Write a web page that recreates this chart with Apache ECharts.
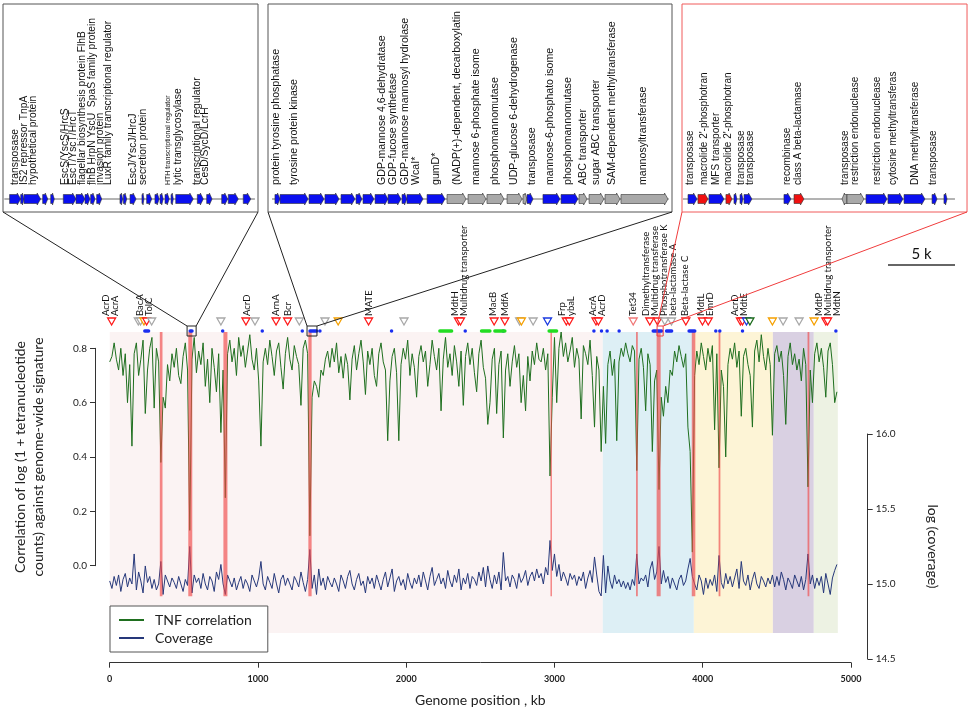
<!DOCTYPE html>
<html><head><meta charset="utf-8">
<script src="https://cdn.jsdelivr.net/npm/echarts@6/dist/echarts.min.js"></script>
<style>html,body{margin:0;padding:0;background:#fff}#c{width:970px;height:712px}</style>
</head><body><div id="c"></div>
<script>
// ---------------- DATA ----------------
const WINDOW_KB = 15; // sliding window step along genome (kb)

const tnfCorrelation = [
0.75,0.77,0.82,0.76,0.72,0.80,0.70,0.78,0.60,0.74,
0.44,0.78,0.82,0.70,0.76,0.83,0.56,0.72,0.80,0.84,
0.58,0.80,0.75,0.38,0.62,0.58,0.74,0.68,0.78,0.73,
0.80,0.70,0.67,0.77,0.82,0.72,0.13,0.76,0.84,0.71,
0.79,0.74,0.82,0.66,0.76,0.60,0.80,0.73,0.64,0.78,
0.49,0.72,0.25,0.78,0.83,0.75,0.80,0.70,0.84,0.77,
0.81,0.73,0.79,0.85,0.76,0.72,0.80,0.68,0.44,0.75,
0.80,0.74,0.83,0.77,0.70,0.79,0.82,0.73,0.65,0.78,
0.84,0.76,0.72,0.81,0.77,0.74,0.59,0.80,0.83,0.78,
0.11,0.62,0.68,0.66,0.62,0.72,0.70,0.76,0.79,0.73,
0.80,0.75,0.82,0.71,0.77,0.69,0.78,0.74,0.61,0.76,
0.81,0.72,0.78,0.83,0.75,0.63,0.79,0.74,0.80,0.70,
0.66,0.78,0.82,0.75,0.72,0.46,0.68,0.77,0.80,0.71,
0.46,0.74,0.80,0.76,0.83,0.70,0.78,0.73,0.62,0.77,
0.81,0.75,0.79,0.66,0.74,0.83,0.77,0.72,0.80,0.57,
0.76,0.84,0.73,0.78,0.70,0.81,0.75,0.66,0.79,0.59,
0.77,0.82,0.74,0.80,0.71,0.64,0.78,0.83,0.73,0.69,
0.52,0.60,0.76,0.80,0.56,0.74,0.79,0.47,0.72,0.78,
0.66,0.75,0.81,0.73,0.78,0.60,0.70,0.57,0.77,0.68,
0.79,0.74,0.82,0.76,0.75,0.80,0.72,0.78,0.33,0.62,
0.84,0.60,0.80,0.86,0.77,0.82,0.75,0.79,0.84,0.73,
0.80,0.76,0.54,0.81,0.78,0.74,0.83,0.70,0.51,0.77,
0.72,0.42,0.66,0.45,0.74,0.79,0.70,0.76,0.46,0.75,
0.80,0.77,0.82,0.78,0.75,0.81,0.79,0.35,0.76,0.80,
0.73,0.57,0.78,0.74,0.42,0.68,0.72,0.28,0.62,0.55,
0.66,0.60,0.72,0.70,0.79,0.75,0.81,0.77,0.73,0.78,
0.51,0.42,0.05,0.70,0.79,0.74,0.82,0.77,0.72,0.80,
0.75,0.81,0.50,0.78,0.36,0.72,0.66,0.40,0.74,0.80,
0.76,0.82,0.73,0.79,0.55,0.77,0.80,0.74,0.70,0.51,
0.79,0.83,0.75,0.85,0.77,0.72,0.80,0.74,0.48,0.78,
0.81,0.75,0.79,0.70,0.52,0.77,0.82,0.74,0.78,0.72,
0.76,0.68,0.80,0.74,0.29,0.72,0.60,0.78,0.82,0.75,
0.80,0.73,0.62,0.79,0.82,0.74,0.60,0.64
];

const logCoverage = [
15.02,14.97,15.05,14.99,15.06,14.95,15.03,15.07,14.98,15.04,
15.00,15.20,14.96,15.08,15.02,14.94,15.12,15.01,15.05,14.97,
15.03,14.96,15.00,15.15,14.93,15.06,15.02,14.98,15.04,15.01,
14.97,15.05,15.00,14.95,15.03,14.99,15.25,14.94,15.06,15.01,
15.04,14.97,15.07,15.00,14.96,15.05,15.02,14.95,15.08,15.03,
15.13,15.00,14.93,15.06,15.02,14.98,15.04,14.96,15.01,15.05,
14.97,15.03,15.00,14.95,15.06,15.02,14.98,15.04,15.15,15.00,
14.96,15.05,15.01,14.97,15.07,15.00,14.94,15.03,15.06,14.99,
15.04,15.00,14.96,15.05,15.02,14.98,15.08,15.01,14.95,15.03,
15.23,14.97,15.06,14.93,15.10,14.99,15.04,14.96,15.05,15.01,
14.98,15.04,15.00,14.95,15.06,15.02,14.97,15.05,15.09,15.00,
14.96,15.03,15.07,14.99,15.02,14.94,15.05,15.00,15.04,14.97,
15.06,15.01,14.96,15.03,15.08,14.98,15.04,15.10,14.95,15.02,
15.05,14.99,15.03,14.96,15.07,15.01,14.97,15.04,15.00,15.06,
14.98,15.08,15.02,14.96,15.05,15.11,14.99,15.03,15.07,15.00,
15.04,14.97,15.09,15.02,14.98,15.06,15.01,15.10,14.96,15.04,
15.00,15.07,14.97,15.05,15.03,14.99,15.08,15.02,15.11,14.98,
15.12,15.03,14.97,15.06,15.00,15.08,14.96,15.21,15.02,15.05,
14.98,15.06,15.03,14.97,15.07,15.01,15.04,15.09,14.99,15.05,
15.08,15.02,15.10,15.04,15.07,15.00,15.11,15.06,15.29,15.09,
15.20,15.05,15.13,15.02,15.08,15.04,14.99,15.07,15.03,15.06,
14.99,15.05,15.02,15.08,14.97,15.04,15.09,15.01,15.18,15.06,
14.95,14.92,15.19,14.94,15.12,15.02,14.97,15.06,15.00,15.03,
14.98,15.02,14.97,15.01,14.96,15.03,14.99,15.20,15.00,15.04,
15.02,15.06,14.98,15.10,15.15,15.03,15.08,15.25,15.00,15.09,
15.01,15.05,14.97,15.04,15.00,14.96,15.03,15.06,14.99,15.02,
15.10,15.17,15.05,15.00,14.96,15.06,15.02,14.93,15.04,14.97,
15.03,14.99,15.06,14.95,15.19,15.01,14.97,15.07,15.00,15.05,
14.98,15.04,15.10,14.97,15.15,15.02,14.99,15.06,14.96,15.03,
15.08,15.00,14.97,15.05,15.02,14.98,15.04,15.00,15.06,14.98,
15.05,14.99,15.08,15.03,14.96,15.04,15.01,14.97,15.06,15.02,
14.98,15.05,14.96,15.03,15.20,15.00,15.06,14.97,15.04,14.99,
15.05,14.94,15.07,15.00,14.93,15.04,15.09,15.13
];

// genome-composition clusters (kb start, kb end)
const compositionRegions = [[0,3326],[3326,3940],[3940,4473],[4473,4749],[4749,4911]];
// genomic islands (red bars, kb)
const islandBars = [[338,356],[530,557],[767,794],[1340,1362],[2973,2983],[3550,3562],[3689,3716],[3926,3950],[4107,4119],[4707,4719]];
// resistance genes: [kb, class]  r=red g=gray o=orange b=blue d=dark green p=light red
const resistanceGenes = [[13,'r'],[193,'g'],[208,'g'],[231,'o'],[249,'r'],[283,'g'],[750,'g'],[919,'r'],[980,'g'],[1122,'r'],[1200,'r'],[1279,'g'],[1452,'g'],[1541,'o'],[1746,'r'],[1985,'g'],[2352,'r'],[2366,'r'],[2593,'r'],[2665,'r'],[2765,'g'],[2777,'o'],[2856,'g'],[2953,'b'],[3080,'r'],[3100,'r'],[3280,'r'],[3296,'r'],[3531,'p'],[3643,'r'],[3695,'r'],[3744,'g'],[3789,'g'],[3886,'r'],[3998,'r'],[4037,'r'],[4254,'r'],[4268,'r'],[4295,'b'],[4318,'d'],[4470,'o'],[4542,'g'],[4650,'g'],[4751,'o'],[4830,'r'],[4842,'r']];
const resistanceLabels = [[5,'AcrD\nAcrA'],[231,'BacA\nTolC'],[924,'AcrD'],[1119,'ArnA'],[1200,'Bcr'],[1751,'MATE'],[2362,'MdtH\nMultidrug transporter'],[2587,'MacB'],[2665,'MdfA'],[3084,'Frp\nybaL'],[3288,'AcrA\nAcrD'],[3531,'Tet34'],[3710,'Dimethyltransferase\nMultidrug transferase\nPhosphotransferase K\nbeta-lactamase A'],[3880,'Beta-lactase C'],[4021,'MdtL\nEmrD'],[4250,'AcrD\nMdtE'],[4844,'MdtP\nMultidrug transporter\nMdtN']];
// mobile elements (blue) and other marks (green): [kb start, kb end]
const mobileMarks = [[237,262],[543,555],[762,762],[1029,1029],[1299,1299],[1351,1396],[1418,1418],[1901,1901],[2398,2398],[2654,2654],[3266,3266],[3317,3317],[3355,3355],[3436,3436],[3666,3722],[3756,3790],[3908,3946],[4088,4088],[4115,4115],[4268,4268],[4898,4898]];
const greenMarks = [[2227,2306],[2508,2564],[2598,2665],[2964,3014]];
// zoomed regions (kb)
const zoomBoxes = [[522,583],[1331,1398],[3692,3733]];

// gene panels: [start kb, end kb, strand], types: b=blue r=red g=gray
const panelSpansKb = [19.03, 30.15, 21.27];
const panelTracks = [[0.1,18.8],[0.3,29.9],[0.07,20.37]];
const panel1Genes = [[0.49,1.32,1],[1.32,1.57,1],[1.57,2.81,1],[2.96,3.34,1],[3.56,3.83,1],[4.50,5.45,1],[5.45,6.12,1],[6.12,6.49,1],[6.54,6.87,1],[6.99,7.37,1],[8.73,8.93,1],[8.98,9.23,1],[9.48,9.93,1],[10.37,10.52,1],[10.72,11.10,1],[11.34,11.66,1],[11.72,11.96,1],[12.09,12.41,1],[12.54,12.71,1],[12.89,14.20,1],[14.50,14.95,1],[15.20,15.60,1],[16.32,16.77,1],[16.81,17.56,1],[17.93,18.49,1]];
const panel1Types = 'bbbbbbbbbbbbbbbbbbbbbbbbb';
const panel1Labels = [[0.9,'transposase'],[1.57,'IS2 repressor TnpA'],[2.24,'hypothetical protein'],[4.63,'EscS/YscS/HrcS'],[5.22,'EscT/YscT/HrcT'],[5.9,'flagellar biosynthesis protein FlhB'],[6.64,'flhB HrpN YscU  SpaS family protein'],[7.24,'invasion protein'],[7.84,'LuxR family transcriptional regulator'],[9.7,'EscJ/YscJ/HrcJ'],[10.45,'secretion protein'],[13.06,'lytic transglycosylase'],[14.48,'transcriptional regulator'],[15.07,'CesD/SycD/LcrH']];
const panel1SmallLabels = [[12.31,'HTH transcriptional regulator']];
const panel2Genes = [[0.52,0.90,1],[0.90,2.99,1],[3.06,4.18,1],[4.25,5.30,1],[5.45,6.49,1],[6.57,7.01,1],[7.09,7.91,1],[7.99,8.96,1],[8.96,9.93,1],[10.00,10.37,1],[10.37,11.57,1],[11.87,13.21,1],[13.36,14.78,1],[14.93,16.27,1],[16.34,17.61,1],[17.84,18.96,1],[19.03,19.33,1],[19.33,19.78,1],[20.52,21.79,1],[21.87,23.13,1],[23.21,23.81,1],[23.96,25.07,1],[25.15,26.27,1],[26.34,29.85,1]];
const panel2Types = 'bbbbbbbbbbbbggggg' + 'bbb' + 'gggg';
const panel2Labels = [[0.6,'protein tyrosine phosphatase'],[1.94,'tyrosine protein kinase'],[8.51,'GDP-mannose 4,6-dehydratase'],[9.33,'GDP-fucose synthetase'],[10.22,'GDP-mannose mannosyl hydrolase'],[11.04,'WcaI*'],[12.54,'gumD*'],[14.1,'(NADP(+)-dependent, decarboxylatin'],[15.52,'mannose 6-phosphate isome'],[16.94,'phosphomannomutase'],[18.36,'UDP-glucose 6-dehydrogenase'],[19.7,'transposase'],[21.04,'mannose-6-phosphato isome'],[22.39,'phosphomannomutase'],[23.51,'ABC transporter'],[24.48,'sugar ABC transporter'],[25.67,'SAM-dependent methyltransferase'],[27.99,'mannosyltransferase']];
const panel3Genes = [[0.45,1.12,1],[1.19,1.94,1],[2.01,3.13,1],[3.28,3.73,1],[3.88,4.10,1],[4.33,4.55,1],[4.63,5.22,1],[7.61,8.13,1],[8.36,9.10,1],[11.94,12.31,-1],[12.31,13.58,1],[13.73,15.30,1],[15.37,16.49,1],[16.57,18.13,1],[18.66,19.03,1],[19.55,19.78,1]];
const panel3Types = 'brbrbbbbrggbbbbb';
const panel3Labels = [[0.6,'transposase'],[1.64,"macrolide 2'-phosphotran"],[2.54,'MFS transporter'],[3.43,"macrolide 2'-phosphotran"],[4.4,'transposase'],[5.07,'transposase'],[7.84,'recombinase'],[8.66,'class A beta-lactamase'],[12.16,'transposase'],[12.91,'restriction endonuclease'],[14.55,'restriction endonuclease'],[15.75,'cytosine methyltransferas'],[17.39,'DNA methyltransferase'],[18.73,'transposase']];

// ---------------- LAYOUT / STYLE ----------------
const CORR_MIN = -0.357, CORR_MAX = 0.86;
const COV_MIN = 14.475, COV_MAX = 16.68;
const REGION_BOTTOM = -0.248, BAR_BOTTOM = -0.112;
const PX_PER_KB = 13.4;
const panelLefts = [3, 268, 682];
const panelFontSizes = [10.3, 10.6, 10];
const regionColors = ['#fbf3f3','#ddeff5','#fdf4d6','#d9d0e2','#edf2e3'];
const markColors = {r:'#ff1a1a', g:'#a8a8a8', o:'#f5a000', b:'#1a3ae0', d:'#1a6b1a', p:'#f07878'};
const geneColors = {b:'#0a0ff0', r:'#f01010', g:'#a9a9a9'};
const FONT = 'Lato';
const GENE_FONT = 'Liberation Sans';

const chart = echarts.init(document.getElementById('c'), null, {renderer:'canvas'});

const corrData = tnfCorrelation.map((v,i)=>[i*WINDOW_KB, v]);
const covData = logCoverage.map((v,i)=>[i*WINDOW_KB, v]);

function rectBetween(api, x0, y0, x1, y1) {
  const a = api.coord([x0, y0]), b = api.coord([x1, y1]);
  return {x: a[0], y: a[1], width: b[0]-a[0], height: b[1]-a[1]};
}

const grids = [
  {left: 109.7, right: 119, top: 332, bottom: 49.3},            // 0 main
  {left: 95, width: 1, top: 348.3, height: 217.4},               // 1 left axis
  {left: 866.7, width: 1, top: 434, height: 225},                // 2 right axis
];
const xAxes = [
  {gridIndex:0, type:'value', min:0, max:5000, interval:1000,
   axisLine:{onZero:false, lineStyle:{color:'#333', width:1}}, axisTick:{length:5, lineStyle:{color:'#333'}},
   axisLabel:{fontSize:9, fontWeight:'bold', color:'#222', margin:12, fontFamily:FONT, formatter:v=>String(v)},
   splitLine:{show:false},
   name:'Genome position , kb', nameLocation:'middle', nameGap:31,
   nameTextStyle:{fontSize:14, color:'#222', fontFamily:FONT}},
  {gridIndex:1, type:'value', min:0, max:1, show:false},
  {gridIndex:2, type:'value', min:0, max:1, show:false},
];
const yAxes = [
  {gridIndex:0, type:'value', min:CORR_MIN, max:CORR_MAX, show:false},
  {gridIndex:0, type:'value', min:COV_MIN, max:COV_MAX, show:false, position:'right'},
  {gridIndex:1, type:'value', min:0, max:0.8, interval:0.2, position:'left',
   axisLine:{show:true, onZero:false, lineStyle:{color:'#333'}}, axisTick:{show:true, length:5, lineStyle:{color:'#333'}},
   axisLabel:{fontSize:10, color:'#222', margin:8, fontFamily:FONT, formatter:v=>v.toFixed(1)},
   splitLine:{show:false},
   name:'Correlation of log (1 + tetranucleotide\ncounts) against genome-wide signature',
   nameLocation:'middle', nameRotate:90, nameGap:48,
   nameTextStyle:{fontSize:14, lineHeight:18, color:'#222', fontFamily:FONT}},
  {gridIndex:2, type:'value', min:14.5, max:16, interval:0.5, position:'right',
   axisLine:{show:true, onZero:false, lineStyle:{color:'#333'}}, axisTick:{show:true, length:5, lineStyle:{color:'#333'}},
   axisLabel:{fontSize:10, color:'#222', margin:8, fontFamily:FONT, formatter:v=>v.toFixed(1)},
   splitLine:{show:false},
   name:'log (coverage)', nameLocation:'middle', nameRotate:-90, nameGap:58,
   nameTextStyle:{fontSize:14, color:'#222', fontFamily:FONT}},
];

// gene panel grids
panelSpansKb.forEach((span, i) => {
  grids.push({left: panelLefts[i], top: 4, width: span*PX_PER_KB, height: 208, show: true,
    borderColor: i===2 ? '#f05a5a' : '#555', borderWidth: 1, backgroundColor: '#fff'});
  xAxes.push({gridIndex: 3+i, type:'value', min:0, max:span, show:false});
  yAxes.push({gridIndex: 3+i, type:'value', min:0, max:1, show:false});
});

const series = [
  { // composition regions
    type:'custom', xAxisIndex:0, yAxisIndex:0, z:1, silent:true,
    data: compositionRegions,
    renderItem(params, api){
      return {type:'rect', shape: rectBetween(api, api.value(0), CORR_MAX, api.value(1), REGION_BOTTOM),
        style:{fill: regionColors[params.dataIndex]}};
    }
  },
  {name:'TNF correlation', type:'line', xAxisIndex:0, yAxisIndex:0, data:corrData, z:3,
   symbol:'none', lineStyle:{color:'#1f6f1f', width:1}, itemStyle:{color:'#1f6f1f'}},
  {name:'Coverage', type:'line', xAxisIndex:0, yAxisIndex:1, data:covData, z:3,
   symbol:'none', lineStyle:{color:'#26387a', width:1}, itemStyle:{color:'#26387a'}},
  { // islands
    type:'custom', xAxisIndex:0, yAxisIndex:0, z:5, silent:true,
    data: islandBars,
    renderItem(params, api){
      return {type:'rect', shape: rectBetween(api, api.value(0), CORR_MAX, api.value(1), BAR_BOTTOM),
        style:{fill:'rgba(240,72,72,0.65)'}};
    }
  },
  { // resistance triangles
    type:'custom', xAxisIndex:0, yAxisIndex:0, z:6, silent:true,
    data: resistanceGenes.map(d=>[d[0]]),
    renderItem(params, api){
      const x = api.coord([api.value(0), CORR_MAX])[0];
      const top = params.coordSys.y;
      const c = markColors[resistanceGenes[params.dataIndex][1]];
      return {type:'polygon', shape:{points:[[x-4,top-14],[x+4,top-14],[x,top-7]]},
        style:{fill:'#fff', stroke:c, lineWidth:1.3}};
    }
  },
  { // resistance labels
    type:'custom', xAxisIndex:0, yAxisIndex:0, z:6, silent:true,
    data: resistanceLabels.map(d=>[d[0]]),
    renderItem(params, api){
      const x = api.coord([api.value(0), CORR_MAX])[0];
      const top = params.coordSys.y;
      return {type:'text', x:x, y:top-16, rotation:Math.PI/2,
        style:{text: resistanceLabels[params.dataIndex][1], fill:'#111', fontSize:9.5, lineHeight:9,
          fontFamily:FONT, align:'left', verticalAlign:'middle'}};
    }
  },
  { // mobile marks (blue) + green marks
    type:'custom', xAxisIndex:0, yAxisIndex:0, z:6, silent:true,
    data: mobileMarks.concat(greenMarks),
    renderItem(params, api){
      const a = api.coord([api.value(0), CORR_MAX]), b = api.coord([api.value(1), CORR_MAX]);
      const y = params.coordSys.y - 1;
      const c = params.dataIndex < mobileMarks.length ? '#1a2ef0' : '#22dd22';
      return {type:'line', shape:{x1:a[0], y1:y, x2:b[0]+0.01, y2:y},
        style:{stroke:c, lineWidth:3.5, lineCap:'round'}};
    }
  },
  { // zoom boxes
    type:'custom', xAxisIndex:0, yAxisIndex:0, z:7, silent:true,
    data: zoomBoxes,
    renderItem(params, api){
      const a = api.coord([api.value(0), CORR_MAX]), b = api.coord([api.value(1), CORR_MAX]);
      const top = params.coordSys.y;
      return {type:'rect', shape:{x:a[0], y:top-6, width:b[0]-a[0], height:10},
        style:{fill:'none', stroke: params.dataIndex===2 ? '#f03c3c' : '#222', lineWidth:1}};
    }
  },
];

function geneSeries(genes, types, idx){
  return {
    type:'custom', xAxisIndex:3+idx, yAxisIndex:4+idx, z:10, silent:true,
    data: genes,
    renderItem(params, api){
      const x0 = api.coord([api.value(0), 0])[0], x1 = api.coord([api.value(1), 0])[0];
      const y = params.coordSys.y + params.coordSys.height - 13;
      const strand = api.value(2);
      const h = 4.5, hh = 6, hl = Math.min(3.5, (x1-x0)*0.5);
      let pts;
      if (strand >= 0) pts = [[x0,y-h],[x1-hl,y-h],[x1-hl,y-hh],[x1,y],[x1-hl,y+hh],[x1-hl,y+h],[x0,y+h]];
      else pts = [[x1,y-h],[x0+hl,y-h],[x0+hl,y-hh],[x0,y],[x0+hl,y+hh],[x0+hl,y+h],[x1,y+h]];
      return {type:'polygon', shape:{points:pts},
        style:{fill: geneColors[types[params.dataIndex]], stroke:'#333', lineWidth:0.6}};
    }
  };
}
function trackSeries(idx){
  return {
    type:'custom', xAxisIndex:3+idx, yAxisIndex:4+idx, z:9, silent:true,
    data: [panelTracks[idx]],
    renderItem(params, api){
      const x0 = api.coord([api.value(0), 0])[0], x1 = api.coord([api.value(1), 0])[0];
      const y = params.coordSys.y + params.coordSys.height - 13;
      return {type:'line', shape:{x1:x0, y1:y, x2:x1, y2:y}, style:{stroke:'#666', lineWidth:1}};
    }
  };
}
function labelSeries(labels, idx, size){
  return {
    type:'custom', xAxisIndex:3+idx, yAxisIndex:4+idx, z:10, silent:true,
    data: labels.map(d=>[d[0]]),
    renderItem(params, api){
      const x = api.coord([api.value(0), 0])[0];
      const y = params.coordSys.y + params.coordSys.height - 27;
      return {type:'text', x:x, y:y, rotation:Math.PI/2,
        style:{text: labels[params.dataIndex][1], fill:'#111', fontSize:size, fontFamily:GENE_FONT,
          align:'left', verticalAlign:'middle'}};
    }
  };
}
series.push(trackSeries(0), geneSeries(panel1Genes, panel1Types, 0), labelSeries(panel1Labels, 0, panelFontSizes[0]), labelSeries(panel1SmallLabels, 0, 7));
series.push(trackSeries(1), geneSeries(panel2Genes, panel2Types, 1), labelSeries(panel2Labels, 1, panelFontSizes[1]));
series.push(trackSeries(2), geneSeries(panel3Genes, panel3Types, 2), labelSeries(panel3Labels, 2, panelFontSizes[2]));

chart.setOption({
  animation:false,
  textStyle:{fontFamily:FONT},
  grid: grids, xAxis: xAxes, yAxis: yAxes,
  legend:{
    data:[{name:'TNF correlation', icon:'rect'},{name:'Coverage', icon:'rect'}],
    orient:'vertical', left:110, top:606, itemWidth:25, itemHeight:2, itemGap:4,
    padding:[7,16,7,9], borderColor:'#555', borderWidth:1, backgroundColor:'#fff',
    textStyle:{fontSize:14, color:'#222', fontFamily:FONT, padding:[0,0,0,6]}
  },
  series: series
});

// connecting lines and scale bar, computed from the axes
const graphics = [];
zoomBoxes.forEach((b, i) => {
  const pf = {xAxisIndex:3+i, yAxisIndex:4+i};
  const bl = chart.convertToPixel(pf, [0, 0]);
  const br = chart.convertToPixel(pf, [panelSpansKb[i], 0]);
  const sl = chart.convertToPixel({xAxisIndex:0, yAxisIndex:0}, [b[0], CORR_MAX]);
  const sr = chart.convertToPixel({xAxisIndex:0, yAxisIndex:0}, [b[1], CORR_MAX]);
  const c = i===2 ? '#f03c3c' : '#222';
  graphics.push({type:'line', z:20, shape:{x1:bl[0], y1:bl[1], x2:sl[0], y2:sl[1]-6}, style:{stroke:c, lineWidth:1}});
  graphics.push({type:'line', z:20, shape:{x1:br[0], y1:br[1], x2:sr[0], y2:sr[1]-6}, style:{stroke:c, lineWidth:1}});
});
const s0 = chart.convertToPixel({xAxisIndex:3, yAxisIndex:4}, [0, 0]);
const s5 = chart.convertToPixel({xAxisIndex:3, yAxisIndex:4}, [5, 0]);
const barLen = s5[0] - s0[0];
const barRight = 955, barY = 265;
graphics.push({type:'line', shape:{x1:barRight-barLen, y1:barY, x2:barRight, y2:barY}, style:{stroke:'#333', lineWidth:1.5}});
graphics.push({type:'text', x:barRight-barLen/2, y:barY-3, style:{text:'5 k', fontSize:15, fontFamily:FONT, fill:'#111', align:'center', verticalAlign:'bottom'}});
chart.setOption({graphic: graphics});
</script>
</body></html>
